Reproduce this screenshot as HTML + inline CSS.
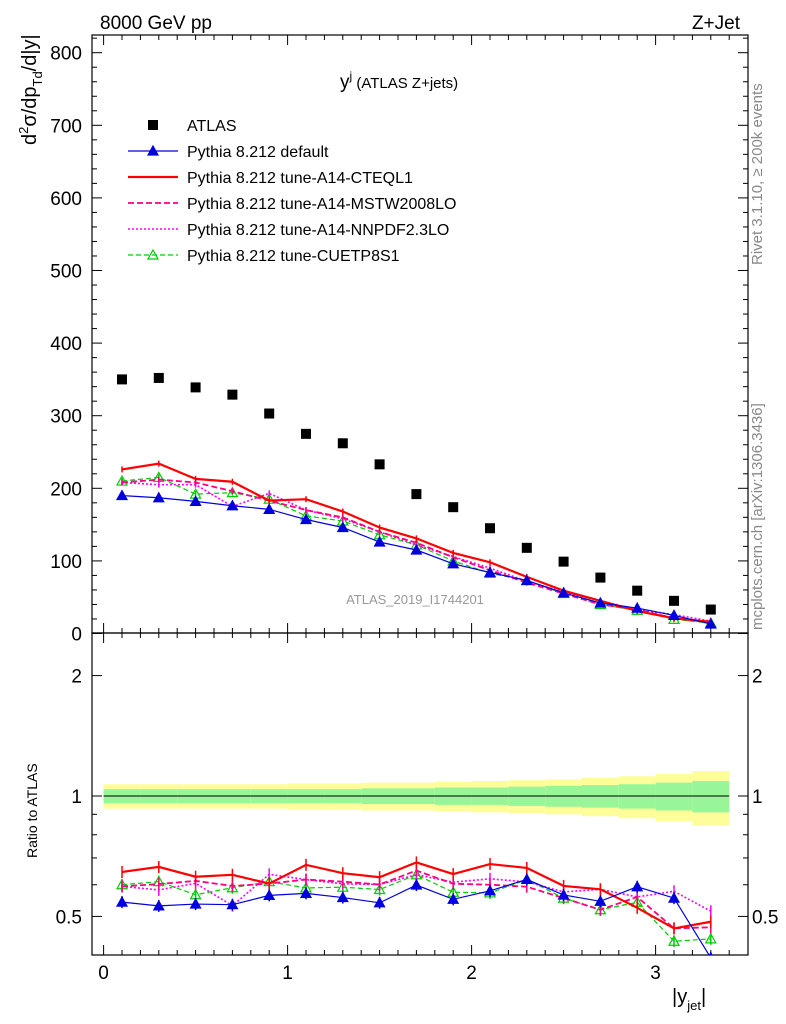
<!DOCTYPE html>
<html><head><meta charset="utf-8"><style>
body{margin:0;background:#fff;}
svg{display:block;font-family:"Liberation Sans",sans-serif;}
</style></head><body>
<svg id="chart" width="786" height="1024" viewBox="0 0 786 1024" xmlns="http://www.w3.org/2000/svg">
<defs><clipPath id="rclip"><rect x="92" y="633" width="656" height="322"/></clipPath></defs>
<text x="100" y="29" font-size="19">8000 GeV pp</text>
<text x="740" y="29" font-size="19" text-anchor="end">Z+Jet</text>
<text transform="translate(762,265) rotate(-90)" font-size="15" fill="#888">Rivet 3.1.10, ≥ 200k events</text>
<text transform="translate(762,630) rotate(-90)" font-size="15" fill="#888">mcplots.cern.ch [arXiv:1306.3436]</text>
<text x="415" y="604" font-size="13" fill="#999" text-anchor="middle">ATLAS_2019_I1744201</text>
<text x="340" y="88" font-size="19">y<tspan font-size="12" dy="-8">j</tspan><tspan font-size="15" dy="8"> (ATLAS Z+jets)</tspan></text>
<text transform="translate(36,145) rotate(-90)" font-size="20">d<tspan font-size="13" dy="-8">2</tspan><tspan dy="8">σ/dp</tspan><tspan font-size="13" dy="6">Td</tspan><tspan dy="-6">/d|y|</tspan></text>
<text transform="translate(37,858) rotate(-90)" font-size="14">Ratio to ATLAS</text>
<text x="672" y="1003" font-size="20">|y<tspan font-size="13" dy="7">jet</tspan><tspan dy="-7">|</tspan></text>
<g id="g"></g>
</svg>
<script>
const centers=[0.1,0.3,0.5,0.7,0.9,1.1,1.3,1.5,1.7,1.9,2.1,2.3,2.5,2.7,2.9,3.1,3.3];
const atlas=[350,352,339,329,303,275,262,233,192,174,145,118,99,77,59,45,33];
const pyDefault=[190,187,182,176,171,157,146,126,115,96,84,73,56,42,35,25,13];
const pyCTEQ=[226,234,213,209,183,185,168,146,131,111,98,78,59,45,31,21,16];
const pyMSTW=[208,212,208,196,183,170,160,140,125,105,87,70,55,40,33,21,15.5];
const pyNNPDF=[208,205,205,175,193,170,158,140,122,106,90,72,57,45,33,26,17];
const pyCUETP=[210,215,192,194,185,162,155,136,122,100,83,73,55,40,32,19.5,14.5];
const statErr=[0.04,0.04,0.04,0.04,0.04,0.04,0.04,0.045,0.045,0.05,0.05,0.055,0.06,0.065,0.07,0.08,0.09];
const totErr=[0.07,0.07,0.07,0.07,0.07,0.075,0.075,0.08,0.08,0.085,0.09,0.095,0.1,0.11,0.12,0.135,0.155];
const yTicks=[0,100,200,300,400,500,600,700,800];
const xTicks=[0,1,2,3];
const ratioTicks=[0.5,1,2];

const NS="http://www.w3.org/2000/svg",G=document.getElementById('g');
const L=92,R=748,T=35,M=633,B=955;
const X=v=>103.6+v*184;
const Y=v=>633.5-v*0.726;
const RY=v=>796-Math.log10(v)*400;
function el(t,a,p){const e=document.createElementNS(NS,t);for(const k in a)e.setAttribute(k,a[k]);(p||G).appendChild(e);return e;}
for(let i=0;i<centers.length;i++){
  const x0=X(centers[i]-0.1),x1=X(centers[i]+0.1);
  let r=el('rect',{x:x0,y:RY(1+totErr[i]),width:x1-x0,height:RY(1-totErr[i])-RY(1+totErr[i]),fill:'#fdfd9a'});
  
  
  let s=el('rect',{x:x0,y:RY(1+statErr[i]),width:x1-x0,height:RY(1-statErr[i])-RY(1+statErr[i]),fill:'#98f598'});
  
  
}
el('line',{x1:X(0),x2:X(3.4),y1:RY(1),y2:RY(1),stroke:'#000','stroke-width':1});
el('rect',{x:L,y:T,width:R-L,height:M-T,fill:'none',stroke:'#000','stroke-width':1.2});
el('rect',{x:L,y:M,width:R-L,height:B-M,fill:'none',stroke:'#000','stroke-width':1.2});
for(let k=0;k<=34;k++){const v=k/10;const maj=k%10==0;const h=maj?10:5;
  for(const [a,b] of [[T,M],[M,B]]){el('line',{x1:X(v),x2:X(v),y1:b,y2:b-h,stroke:'#000'});el('line',{x1:X(v),x2:X(v),y1:a,y2:a+h,stroke:'#000'});}}
xTicks.forEach(v=>{const t=el('text',{x:X(v),y:979,'font-size':19,'text-anchor':'middle'});t.textContent=v;

});
for(let v=0;v<=820;v+=20){const maj=v%100==0,h=maj?10:5;if(Y(v)<T)break;
  el('line',{x1:L,x2:L+h,y1:Y(v),y2:Y(v),stroke:'#000'});el('line',{x1:R,x2:R-h,y1:Y(v),y2:Y(v),stroke:'#000'});}
yTicks.forEach(v=>{const t=el('text',{x:82,y:Y(v)+7,'font-size':19,'text-anchor':'end'});t.textContent=v;

});
[0.5,0.6,0.7,0.8,0.9,1,2].forEach(v=>{const maj=(v==0.5||v==1||v==2),h=maj?10:5;
  el('line',{x1:L,x2:L+h,y1:RY(v),y2:RY(v),stroke:'#000'});el('line',{x1:R,x2:R-h,y1:RY(v),y2:RY(v),stroke:'#000'});});
ratioTicks.forEach(v=>{for(const [x,a] of [[82,'end'],[752,'start']]){const t=el('text',{x:x,y:RY(v)+7,'font-size':19,'text-anchor':a});t.textContent=v;

}});
const series=[
 {d:pyCUETP,c:'#00cc00',dash:'5,3',w:1.2,m:'tri-open',n:'cuetp8s1'},
 {d:pyNNPDF,c:'#ff00ff',dash:'2,2',w:1.6,m:null,n:'a14-nnpdf'},
 {d:pyMSTW,c:'#ff0080',dash:'6,3',w:1.8,m:null,n:'a14-mstw'},
 {d:pyCTEQ,c:'#ff0000',dash:null,w:2.2,m:null,n:'a14-cteql1'},
 {d:pyDefault,c:'#0000dd',dash:null,w:1.2,m:'tri',n:'default'}];
function marker(type,x,y,c,p){
  if(type=='tri'||type=='tri-open')return el('path',{d:`M${x},${y-5}L${x+5},${y+4}L${x-5},${y+4}Z`,fill:type=='tri'?c:'none',stroke:c,'stroke-width':1.2},p);
  return el('rect',{x:x-5,y:y-5,width:10,height:10,fill:'#000'},p);
}
series.forEach(s=>{
  for(const mode of ['main','ratio']){
    const g=el('g',mode=='ratio'?{'clip-path':'url(#rclip)'}:{});
    
    
    const pts=centers.map((c,i)=>[X(c),mode=='main'?Y(s.d[i]):RY(s.d[i]/atlas[i])]);
    const a={points:pts.map(p=>p.join(',')).join(' '),fill:'none',stroke:s.c,'stroke-width':s.w};
    if(s.dash)a['stroke-dasharray']=s.dash;
    el('polyline',a,g);
    pts.forEach(p=>{const e=mode=='main'?3:6;el('line',{x1:p[0],x2:p[0],y1:p[1]-e,y2:p[1]+e,stroke:s.c,'stroke-width':1.5},g);
      if(s.m)marker(s.m,p[0],p[1],s.c,g);});
  }
});
const ag=el('g',{});


centers.forEach((c,i)=>marker('sq',X(c),Y(atlas[i]),'#000',ag));
const leg=[['ATLAS','sq','#000',null,1],['Pythia 8.212 default','tri','#0000dd',null,1.2],['Pythia 8.212 tune-A14-CTEQL1',null,'#ff0000',null,2.2],
['Pythia 8.212 tune-A14-MSTW2008LO',null,'#ff0080','6,3',1.8],['Pythia 8.212 tune-A14-NNPDF2.3LO',null,'#ff00ff','2,2',1.6],['Pythia 8.212 tune-CUETP8S1','tri-open','#00cc00','5,3',1.2]];
leg.forEach((l,i)=>{const y=125+i*26;const g=el('g',{});
  
  
  if(l[0]!='ATLAS'){const a={x1:128,x2:178,y1:y,y2:y,stroke:l[2],'stroke-width':l[4]};if(l[3])a['stroke-dasharray']=l[3];el('line',a,g);}
  if(l[1])marker(l[1],153,y,l[2],g);
  const t=el('text',{x:187,y:y+6,'font-size':16},g);t.textContent=l[0];});
</script>
</body></html>
